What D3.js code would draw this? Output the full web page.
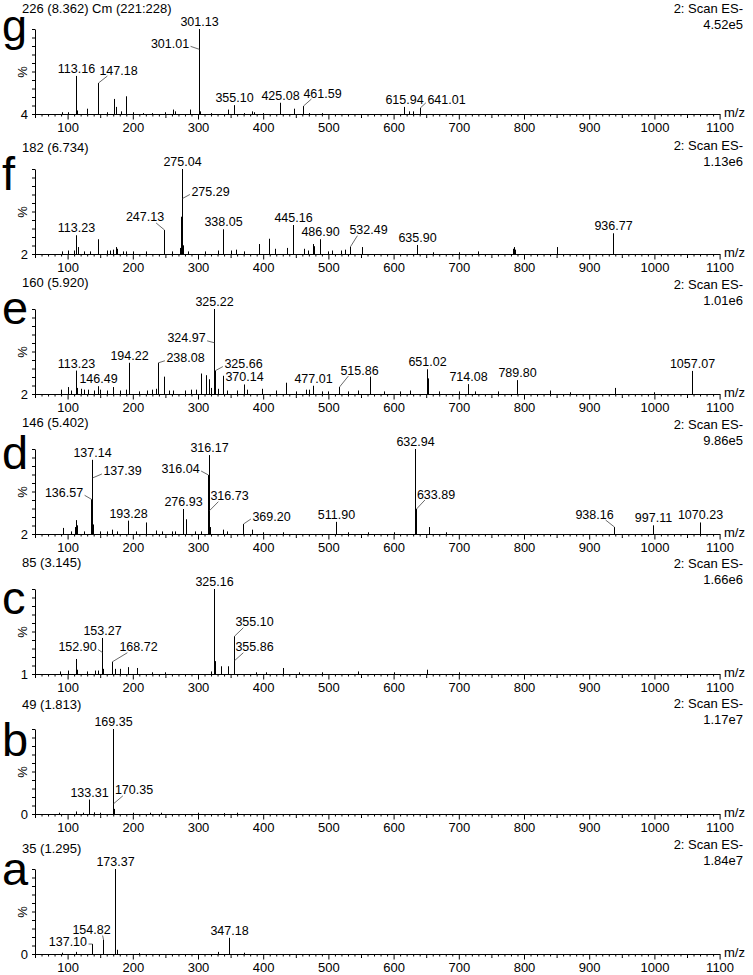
<!DOCTYPE html>
<html><head><meta charset="utf-8">
<script src="https://cdn.jsdelivr.net/npm/d3@7"></script>
<style>
body{margin:0;background:#fff}
svg{display:block}
text{font-family:Arial,"Liberation Sans",sans-serif;fill:#000}
</style>
</head><body>
<svg id="chart" width="753" height="975"></svg>
<script>
// ---------------- DATA ----------------
const panelIds   = ["g","f","e","d","c","b","a"];
const titles     = ["226 (8.362) Cm (221:228)","182 (6.734)","160 (5.920)","146 (5.402)","85 (3.145)","49 (1.813)","35 (1.295)"];
const scanNames  = ["2: Scan ES-","2: Scan ES-","2: Scan ES-","2: Scan ES-","2: Scan ES-","2: Scan ES-","2: Scan ES-"];
const scanMax    = ["4.52e5","1.13e6","1.01e6","9.86e5","1.66e6","1.17e7","1.84e7"];
const yMinLabels = [4,2,2,2,1,0,0];
const xTickLabels = [100,200,300,400,500,600,700,800,900,1000,1100];

// [m/z, relative intensity %]
const gPeaks = [[92,6],[100,6],[113.16,47],[115,8],[130,10],[147.18,39],[160,6],[171.5,21],[174,12],[182,7],[189.5,24],[200,6],[215,5],[230,5],[250,6],[262,9],[265,7],[287,9],[301.01,77],[301.13,100],[303,7],[320,5],[345.5,9],[355.10,14],[370,5],[383,7],[386,6],[399,5],[425.08,16.7],[448,10],[461.59,13],[470,5],[490,5],[615.94,12],[623,7],[629,7],[641.01,11]];
const fPeaks = [[91,5],[101,6],[110,6],[113.23,23.6],[116,10],[125,5],[135,5],[147,19],[160,6],[165,6],[170,7],[174,10],[176,8],[185,5],[190,5],[200,5],[220,5],[247.13,29.7],[260,5],[272,9],[274.3,45],[275.04,100],[275.29,66],[276.5,12],[285,5],[310,5],[330,6],[338.05,30.5],[350,6],[358,7],[370,5],[394,13.5],[408.5,19.6],[418,8],[436,9],[445.16,35.4],[463,8],[469,6],[476,13.5],[477.5,11],[486.90,19],[500,5],[505,6],[520,6],[525,7],[532.49,10.4],[552,10],[635.90,12.4],[660,4],[700,4],[730,5],[783,8],[784,10],[786,7],[850,10],[936.77,25.9]];
const ePeaks = [[90,7],[100.6,10],[105,6],[113.23,29],[115,9],[120,8],[125,7],[131,7],[140,6],[146.49,11],[150,7],[160,6],[169,10],[180,6],[190,7],[194.22,38],[210,5],[222,6],[230,7],[235,8],[238.08,38],[248.5,22],[255,6],[262,6],[280,6],[290,7],[297,7],[304,25.6],[311.8,23.7],[317.5,19],[320,9],[324.97,61],[325.22,100],[325.66,29],[330,8],[338,23],[345,6],[360,6],[370.14,13],[375,7],[397.6,8],[420,6],[435,15],[450,5],[465,7],[470,7],[477.01,11.5],[490,5],[500,5],[515.86,10],[530,5],[545,6],[563.8,22],[585,5],[610,5],[625,6],[651.02,30.5],[653,20],[670,5],[700,5],[714.08,13.4],[725,5],[760,5],[789.80,18],[840,6],[870,4],[939.6,9],[1000,4],[1057.07,28.6]];
const dPeaks = [[92.4,9],[105,5],[111,10],[112.9,18],[115,12],[125,5],[136.57,42],[137.14,87.5],[137.39,66.6],[139,13],[150,5],[160,5],[167.6,7],[175,5],[193.28,17.4],[205,5],[219.8,15.3],[235,6],[245,5],[260,5],[265,5],[276.93,30.8],[281,19],[295,5],[305,5],[316.04,70],[316.17,93],[316.73,28.9],[318,10],[338,7],[345,5],[369.20,13.5],[383,7],[400,4],[430,4],[511.90,16],[530,4],[560,4],[600,4],[632.94,100],[633.89,30.8],[634.6,16],[655,10],[680,4],[938.16,10],[997.11,12],[1070.23,15.3]];
const cPeaks = [[88,4],[100.6,5],[113.3,18.5],[115,6],[130,4],[142,5],[147,5],[152.90,26],[153.27,43],[155,7],[168.72,15.3],[172,7],[181,7],[192,9],[206,8],[230,3],[250,3],[320,4],[325.16,100],[326,16],[336,10],[346.6,10],[355.10,45],[355.86,16.5],[389,3],[405,3],[430,8],[455,3],[490,3],[545,4],[600,3],[651,6],[700,3]];
const bPeaks = [[87,1.5],[113,3],[124,1.5],[133.31,17],[140,2],[150,1.5],[169.35,100],[170.35,12],[171,6],[200,1.5],[226,1.5],[244,1.5],[300,1.5],[340,1],[360,1.5]];
const aPeaks = [[92,1.5],[113,2.5],[137.10,11.7],[154.82,17],[173.37,100],[175,5],[210,1],[331,2.5],[347.18,19],[370,1.5]];

// labelled peaks (text = m/z shown)
const gLabels = ["113.16","147.18","301.13","301.01","355.10","425.08","461.59","615.94","641.01"];
const fLabels = ["113.23","247.13","275.04","275.29","338.05","445.16","486.90","532.49","635.90","936.77"];
const eLabels = ["113.23","146.49","194.22","238.08","325.22","324.97","325.66","370.14","477.01","515.86","651.02","714.08","789.80","1057.07"];
const dLabels = ["137.14","137.39","136.57","193.28","276.93","316.17","316.04","316.73","369.20","511.90","632.94","633.89","938.16","997.11","1070.23"];
const cLabels = ["152.90","153.27","168.72","325.16","355.10","355.86"];
const bLabels = ["133.31","169.35","170.35"];
const aLabels = ["137.10","154.82","173.37","347.18"];

// ---------------- LAYOUT (label displacement from peak top, px) ----------------
const gLabelOff = [[0,0],[20,-13],[0,0],[-29.5,-6],[0,0],[0,0],[19,-13],[0,0],[26,-8]];
const fLabelOff = [[0,0],[-19.5,-13],[0,0],[28,-7],[0,0],[0,0],[0,0],[18,-17],[0,0],[0,0]];
const eLabelOff = [[0,0],[0,0],[0,0],[27,-5],[0,0],[-28,-5],[28,-7],[0,0],[0,0],[20,-17],[0,0],[0,0],[0,0],[0,0]];
const dLabelOff = [[0,0],[30,-7],[-27.5,-7],[0,0],[0,0],[0,0],[-28,-7],[20,-15],[28,-8],[0,0],[0,0],[19.5,-15],[-20,-13],[0,0],[0,0]];
const cLabelOff = [[-25,-6],[0,0],[26,-15],[0,0],[20,-14.5],[20,-14]];
const bLabelOff = [[0,0],[0,0],[20.5,-14]];
const aLabelOff = [[-24.6,-3],[-12,-10],[0,0],[0,0]];

const allPeaks  = [gPeaks,fPeaks,ePeaks,dPeaks,cPeaks,bPeaks,aPeaks];
const allLabels = [gLabels,fLabels,eLabels,dLabels,cLabels,bLabels,aLabels];
const allOff    = [gLabelOff,fLabelOff,eLabelOff,dLabelOff,cLabelOff,bLabelOff,aLabelOff];

const baseY0 = 114, panelStep = 140, plotH = 85;
const letterDy = [-73,-64,-70,-65,-60,-58,-69];
const letterSize = [45,47,47,47,47,47,47];
const titleDy  = [-106,-107,-112,-112,-112,-110,-106];
const infoDy   = [-106,-109,-110,-110,-111,-111,-110];

const svg = d3.select("#chart");
const x = d3.scaleLinear().domain([50,1100]).range([35,719.6]);

panelIds.forEach((pid,i)=>{
  const base = baseY0 + i*panelStep;
  const g = svg.append("g");
  const y = d3.scaleLinear().domain([yMinLabels[i],100]).range([base, base-plotH]);

  // title
  g.append("text").attr("x",22).attr("y",base+titleDy[i]).attr("dy","0.35em")
    .style("font-size","13px").text(titles[i]);
  // right info
  g.append("text").attr("x",743).attr("y",base+infoDy[i]).attr("dy","0.35em").attr("text-anchor","end")
    .style("font-size","13px").text(scanNames[i]);
  g.append("text").attr("x",743).attr("y",base+infoDy[i]+16).attr("dy","0.35em").attr("text-anchor","end")
    .style("font-size","13px").text(scanMax[i]);
  // panel letter
  g.append("text").attr("x",2).attr("y",base+letterDy[i])
    .style("font-size",letterSize[i]+"px").text(pid);

  // x axis: minor ticks
  const minor = d3.range(50,1101,10).filter(v=>v%50!==0);
  const mid = d3.range(50,1101,100);
  g.append("g").attr("transform",`translate(0,${base})`)
    .call(d3.axisBottom(x).tickValues(minor).tickSize(2.5).tickSizeOuter(0).tickFormat(""))
    .call(s=>s.select(".domain").remove());
  g.append("g").attr("transform",`translate(0,${base})`)
    .call(d3.axisBottom(x).tickValues(mid).tickSize(4).tickSizeOuter(0).tickFormat(""))
    .call(s=>s.select(".domain").remove());
  const ax = g.append("g").attr("transform",`translate(0,${base})`)
    .call(d3.axisBottom(x).tickValues(xTickLabels).tickSize(5.5).tickSizeOuter(0).tickPadding(3).tickFormat(d3.format("d")));
  ax.select(".domain").attr("stroke","#000");
  ax.selectAll("text").style("font-size","13px").style("font-family","Arial, 'Liberation Sans', sans-serif");
  g.append("text").attr("x",724).attr("y",base-2).attr("dy","0.35em")
    .style("font-size","13px").text("m/z");

  // y axis
  const ya = g.append("g").attr("transform","translate(35,0)")
    .call(d3.axisLeft(y).tickValues(d3.range(0,11).map(k=>yMinLabels[i]+k*(100-yMinLabels[i])/10))
      .tickSize(3).tickSizeOuter(0).tickFormat(""));
  ya.select(".domain").attr("stroke","#000");
  g.append("text").attr("x",28).attr("y",base).attr("dy","0.35em").attr("text-anchor","end")
    .style("font-size","13px").text(yMinLabels[i]);
  g.append("text").attr("transform",`translate(27,${base-42}) rotate(-90)`).attr("text-anchor","middle")
    .style("font-size","13px").text("%");

  // sticks
  const pk = allPeaks[i].filter(d=>d[1]>yMinLabels[i]);
  g.append("g").selectAll("line").data(pk).join("line")
    .attr("x1",d=>Math.round(x(d[0]))+0.5).attr("x2",d=>Math.round(x(d[0]))+0.5)
    .attr("y1",base).attr("y2",d=>y(d[1]))
    .attr("stroke","#000").attr("stroke-width",1);

  // labels
  allLabels[i].forEach((lab,j)=>{
    const v = +lab;
    const p = allPeaks[i].find(d=>Math.abs(d[0]-v)<1e-6);
    if(!p) return;
    const px = Math.round(x(p[0]))+0.5, py = y(p[1]);
    const [dx,dy] = allOff[i][j];
    if(dx===0 && dy===0){
      g.append("text").attr("x",px).attr("y",py-3).attr("text-anchor","middle")
        .style("font-size","12.5px").text(lab);
    } else {
      const cx = px+dx, cy = py+dy;
      const t = g.append("text").attr("x",cx).attr("y",cy).attr("dy","0.36em").attr("text-anchor","middle")
        .style("font-size","12.5px").text(lab);
      const w = t.node().getComputedTextLength();
      const s = Math.sign(dx);
      let ex, ey;
      if(Math.abs(dy)<=9){ ex = cx - s*(w/2+1.5); ey = cy+3; }
      else { ex = cx - s*(w/2-8); ey = cy+6; }
      g.append("line").attr("x1",px).attr("y1",py).attr("x2",ex).attr("y2",ey)
        .attr("stroke","#444").attr("stroke-width",0.8);
    }
  });
});
</script>
</body></html>
